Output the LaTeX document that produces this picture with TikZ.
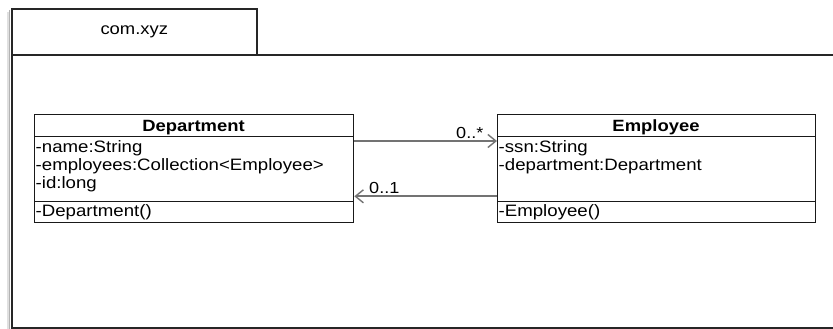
\documentclass[tikz,border=0pt]{standalone}
\usepackage{fontspec}
\setmainfont[FakeStretch=1.13]{Liberation Sans}
\usetikzlibrary{arrows.meta}
\begin{document}
\begin{tikzpicture}[x=1pt,y=-1pt,
  frame/.style={draw=black!85,line width=1.6pt},
  comp/.style={draw=black!90,line width=1.3pt,rectangle,inner sep=0pt,anchor=north west},
  txt/.style={inner sep=0pt,anchor=base west,font=\fontsize{16.5}{18}\selectfont},
  htxt/.style={inner sep=0pt,anchor=base,font=\fontsize{16.3}{18}\selectfont\bfseries},
  assoc/.style={draw=black!55,line width=1.8pt,-{Straight Barb[length=8pt,width=13pt,line width=1.4pt]}},
  mult/.style={inner sep=0pt,anchor=base west,font=\fontsize{16}{18}\selectfont}]
\useasboundingbox (0,0) rectangle (833,329);
\fill[white] (0,0) rectangle (833,329);
% shadows
\draw[black!12,line width=1.4pt] (8.0,12) -- (8.0,329);
\draw[black!30,line width=1.4pt] (9.4,10) -- (9.4,329);
\draw[black!15,line width=1.6pt] (257.5,11) -- (257.5,53);
% package
\node[frame,rectangle,inner sep=0pt,anchor=north west,minimum width=245pt,minimum height=46pt] (tab) at (11,8) {};
\node[font=\fontsize{16.3}{18}\selectfont,inner sep=0pt] (pkgname) at (tab.center) {com.xyz};
\node[frame,rectangle,inner sep=0pt,anchor=north west,minimum width=835pt,minimum height=273pt] (body) at (11,54) {};
% Department class
\node[comp,minimum width=319pt,minimum height=22pt] (dh) at (34,114) {};
\node[comp,minimum width=319pt,minimum height=65pt] (da) at (34,136) {};
\node[comp,minimum width=319pt,minimum height=21pt] (dm) at (34,201) {};
\node[htxt] (dname) at (193.5,131) {Department};
\node[txt] (d1) at (35.5,152) {-name:String};
\node[txt] (d2) at (35.5,170) {-employees:Collection<Employee>};
\node[txt] (d3) at (35.5,188) {-id:long};
\node[txt] (d4) at (35.5,216) {-Department()};
% Employee class
\node[comp,minimum width=318pt,minimum height=22pt] (eh) at (497,114) {};
\node[comp,minimum width=318pt,minimum height=65pt] (ea) at (497,136) {};
\node[comp,minimum width=318pt,minimum height=21pt] (em) at (497,201) {};
\node[htxt] (ename) at (656,131) {Employee};
\node[txt] (e1) at (498.5,152) {-ssn:String};
\node[txt] (e2) at (498.5,170) {-department:Department};
\node[txt] (e3) at (498.5,216) {-Employee()};
% associations
\draw[assoc] ([yshift=-5pt]da.north east) -- ([yshift=-5pt]ea.north west);
\draw[assoc] ([yshift=6pt]ea.south west) -- ([yshift=6pt]da.south east);
\node[mult] (m1) at (456,139) {0..*};
\node[mult] (m2) at (369,193) {0..1};
\end{tikzpicture}
\end{document}
